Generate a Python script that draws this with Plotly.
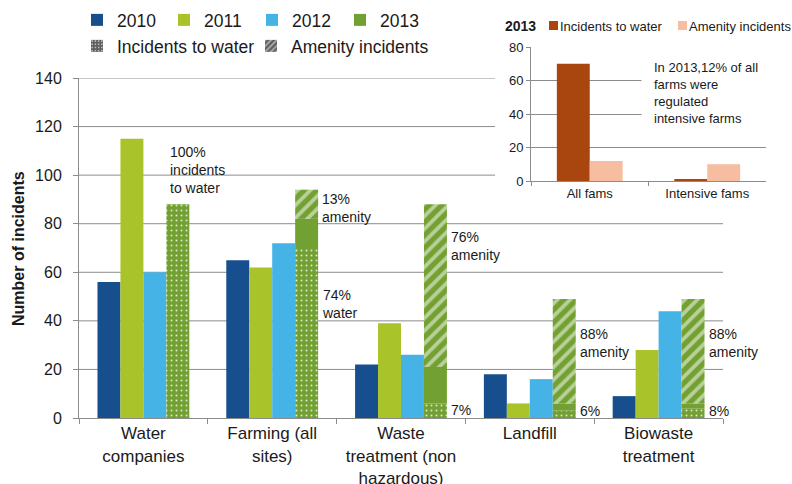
import plotly.graph_objects as go

# ---- data -------------------------------------------------------------
categories = ["Water<br>companies", "Farming (all<br>sites)",
              "Waste<br>treatment (non<br>hazardous)", "Landfill",
              "Biowaste<br>treatment"]
incidents_2010 = [56, 65, 22, 18, 9]
incidents_2011 = [115, 62, 39, 6, 28]
incidents_2012 = [60, 72, 26, 16, 44]
# 2013 split by type of incident
water_2013 = [88, 70, 6, 3, 4]
other_2013 = [0, 12, 15, 3, 2]
amenity_2013 = [0, 12, 67, 43, 43]

farm_types = ["All fams", "Intensive fams"]
farm_water_2013 = [70, 1]
farm_amenity_2013 = [12, 10]

y_ticks = [0, 20, 40, 60, 80, 100, 120, 140]
inset_ticks = [0, 20, 40, 60, 80]

# ---- styling ----------------------------------------------------------
FONT = "Liberation Sans, Arial, sans-serif"
TXT = "#1a1a1a"
GRID = "#8c8c8c"
C2010, C2011, C2012, C2013 = "#174e8d", "#a9c42a", "#45b3e6", "#73a032"
C_WATER, C_AMEN = "#a9460f", "#f6bda0"

W, H = 792, 484
ML, MR, MT, MB = 79, 20, 40, 66
PW, PH = W - ML - MR, H - MT - MB


def px(x):
    return (x - ML) / PW


def py(y):
    return (H - MB - y) / PH


dots = dict(shape=".", fgcolor="white", fgopacity=0.75, size=5, solidity=0.12)
hatch = dict(shape="/", fgcolor="white", size=9, solidity=0.42)

fig = go.Figure()

year_series = [("2010", incidents_2010, C2010, "legend"),
               ("2011", incidents_2011, C2011, "legend2"),
               ("2012", incidents_2012, C2012, "legend3")]
for name, vals, col, lg in year_series:
    fig.add_trace(go.Bar(x=categories, y=vals, name=name, marker_color=col,
                         marker_line_width=0, offsetgroup=name, legend=lg))

base_other = [w for w in water_2013]
base_amen = [w + o for w, o in zip(water_2013, other_2013)]

fig.add_trace(go.Bar(x=categories, y=water_2013, base=[0] * len(categories),
                     name="2013 water", marker=dict(color=C2013, pattern=dots, line_width=0),
                     offsetgroup="2013", showlegend=False))
fig.add_trace(go.Bar(x=categories, y=other_2013, base=base_other, name="2013",
                     marker=dict(color=C2013, line_width=0), offsetgroup="2013",
                     legend="legend4"))
fig.add_trace(go.Bar(x=categories, y=amenity_2013, base=base_amen,
                     name="2013 amenity", marker=dict(color=C2013, pattern=hatch, line_width=0),
                     offsetgroup="2013", showlegend=False))

# legend keys for the two incident types
fig.add_trace(go.Bar(x=categories[:1], y=[0], base=[0], name="Incidents to water",
                     marker=dict(color="#5f5f5f", pattern=dict(dots, size=4, solidity=0.2), line_width=0),
                     offsetgroup="2013", legend="legend5", hoverinfo="skip"))
fig.add_trace(go.Bar(x=categories[:1], y=[0], base=[0], name="Amenity incidents",
                     marker=dict(color="#5f5f5f", pattern=dict(hatch, size=5), line_width=0),
                     offsetgroup="2013", legend="legend6", hoverinfo="skip"))

# inset: farms in 2013
fig.add_trace(go.Bar(x=farm_types, y=farm_water_2013, xaxis="x2", yaxis="y2",
                     marker=dict(color=C_WATER, line_width=0), width=0.28, offset=-0.28,
                     showlegend=False))
fig.add_trace(go.Bar(x=farm_types, y=farm_amenity_2013, xaxis="x2", yaxis="y2",
                     marker=dict(color=C_AMEN, line_width=0), width=0.28, offset=0,
                     showlegend=False))

# ---- percentage labels computed from the 2013 split ----------------------
totals = [w + o + a for w, o, a in zip(water_2013, other_2013, amenity_2013)]
pct_w = [round(100 * w / t) for w, t in zip(water_2013, totals)]
pct_a = [round(100 * a / t) for a, t in zip(amenity_2013, totals)]

labels = [
    (0, f"{pct_w[0]}%<br>incidents<br>to water", 102, 25),
    (1, f"{pct_a[1]}%<br>amenity", 86.5, 48),
    (1, f"{pct_w[1]}%<br>water", 47, 48),
    (2, f"{pct_a[2]}%<br>amenity", 71, 48),
    (2, f"{pct_w[2]}%", 3.3, 48),
    (3, f"{pct_a[3]}%<br>amenity", 31, 48),
    (3, f"{pct_w[3]}%", 2.9, 48),
    (4, f"{pct_a[4]}%<br>amenity", 31, 48),
    (4, f"{pct_w[4]}%", 2.9, 48),
]
annotations = []
for i, text, yv, xs in labels:
    annotations.append(dict(x=categories[i], y=yv, xref="x", yref="y", text=text,
                            xanchor="left", yanchor="middle", align="left", xshift=xs,
                            showarrow=False, font=dict(size=14, color=TXT)))

annotations += [
    dict(x=px(18), y=py(249), xref="paper", yref="paper", text="<b>Number of incidents</b>",
         textangle=-90, xanchor="center", yanchor="middle", showarrow=False,
         font=dict(size=16, color=TXT)),
    dict(x=px(641), y=py(93), xref="paper", yref="paper",
         text="In 2013,12% of all<br>farms were<br>regulated<br>intensive farms",
         xanchor="left", yanchor="middle", align="left", showarrow=False,
         bgcolor="white", borderpad=12, font=dict(size=13, color=TXT)),
    dict(x=px(503), y=py(26), xref="paper", yref="paper", text="<b>2013</b>",
         xanchor="left", yanchor="middle", showarrow=False, font=dict(size=14, color=TXT)),
    dict(x=px(558), y=py(26), xref="paper", yref="paper", text="Incidents to water",
         xanchor="left", yanchor="middle", showarrow=False, font=dict(size=13, color=TXT)),
    dict(x=px(687), y=py(26), xref="paper", yref="paper", text="Amenity incidents",
         xanchor="left", yanchor="middle", showarrow=False, font=dict(size=13, color=TXT)),
]

shapes = [
    dict(type="rect", xref="paper", yref="paper", x0=px(549), x1=px(558),
         y0=py(30), y1=py(21), fillcolor=C_WATER, line_width=0),
    dict(type="rect", xref="paper", yref="paper", x0=px(678), x1=px(687),
         y0=py(30), y1=py(21), fillcolor=C_AMEN, line_width=0),
]
# main gridlines (the upper ones stop short of the inset)
for t in y_ticks[1:]:
    shapes.append(dict(type="line", xref="x domain", yref="y", x0=0,
                       x1=0.646 if t >= 100 else 1, y0=t, y1=t, layer="below",
                       line=dict(color=GRID, width=1)))


def legend_at(xc, yc):
    # legend placed in container pixels: symbol centre at (xc, yc)
    return dict(x=(xc - 20) / W, y=1 - yc / H, xref="container", yref="container",
                xanchor="left", yanchor="middle", orientation="h",
                bgcolor="rgba(0,0,0,0)", borderwidth=0,
                font=dict(family=FONT, size=17.5, color=TXT), itemwidth=30)


fig.update_layout(
    width=W, height=H,
    margin=dict(l=ML, r=MR, t=MT, b=MB, autoexpand=False),
    paper_bgcolor="white", plot_bgcolor="white",
    font=dict(family=FONT, color=TXT),
    barmode="group", bargap=0.287, bargroupgap=0,
    legend=legend_at(97, 20), legend2=legend_at(184, 20),
    legend3=legend_at(272, 20), legend4=legend_at(360, 20),
    legend5=legend_at(97, 46), legend6=legend_at(271, 46),
    xaxis=dict(domain=[0, px(723)], range=[-0.5, len(categories) - 0.5],
               categoryorder="array", categoryarray=categories,
               showline=True, linecolor=GRID, ticks="outside", tickson="boundaries",
               ticklen=5, tickcolor=GRID, tickfont=dict(size=17, color=TXT),
               showgrid=False, automargin=False, fixedrange=True),
    yaxis=dict(domain=[0, py(78)], range=[0, 140], tickvals=y_ticks,
               showline=True, linecolor=GRID, ticks="outside", ticklen=5, tickcolor=GRID,
               ticklabelstandoff=8, tickfont=dict(size=16, color=TXT),
               showgrid=False, zeroline=False, automargin=False),
    xaxis2=dict(domain=[px(531), px(766)], anchor="y2", range=[-0.5, 1.5],
                showline=True, linecolor=GRID,
                ticks="outside", tickson="boundaries", ticklen=4, tickcolor=GRID,
                tickfont=dict(size=13, color=TXT), showgrid=False, automargin=False),
    yaxis2=dict(domain=[py(181), py(47)], anchor="x2", range=[0, 80], tickvals=inset_ticks,
                showline=True, linecolor=GRID, ticks="outside", ticklen=4, tickcolor=GRID,
                tickfont=dict(size=13, color=TXT), gridcolor=GRID, gridwidth=1,
                zeroline=False, automargin=False),
    annotations=annotations,
    shapes=shapes,
)

fig.write_html("out.html")
